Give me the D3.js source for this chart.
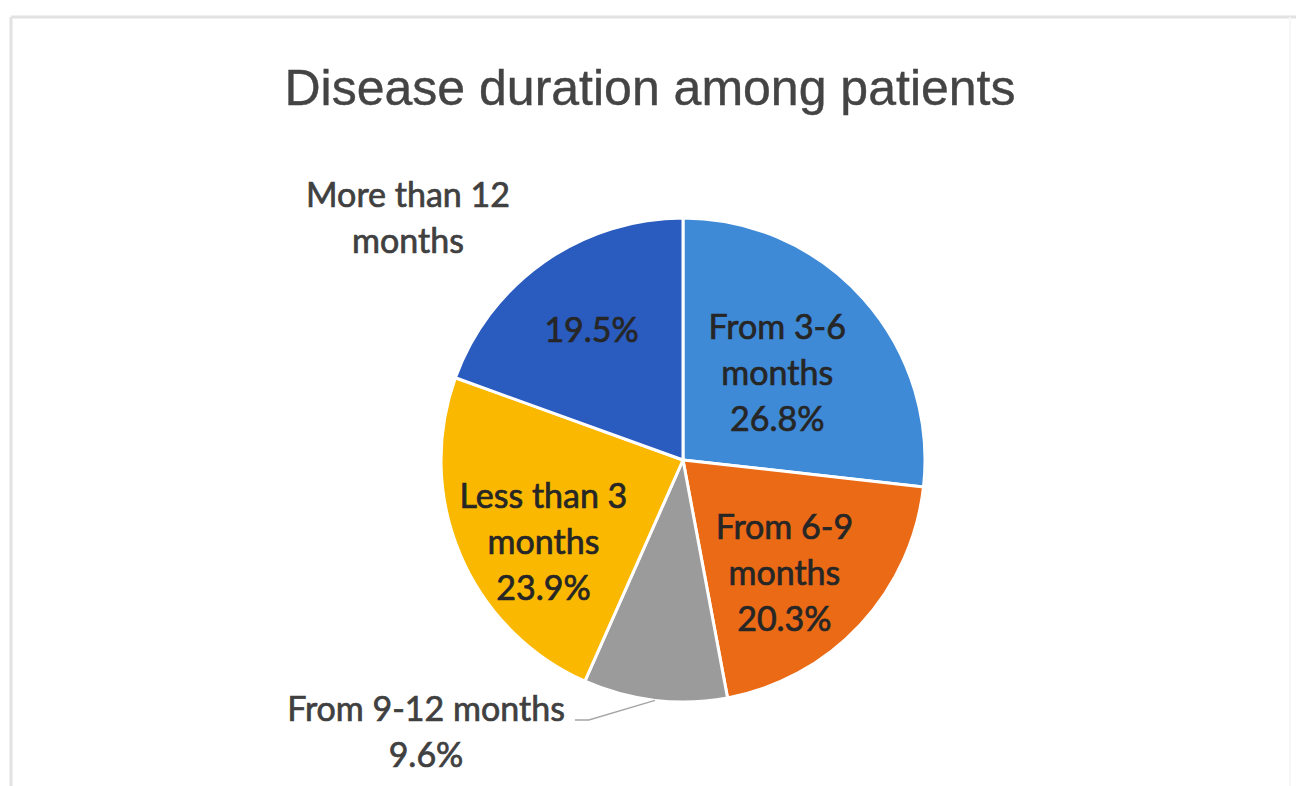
<!DOCTYPE html>
<html>
<head>
<meta charset="utf-8">
<script src="https://cdn.jsdelivr.net/npm/d3@7"></script>
<style>
  body { margin: 0; background: #fff; }
  svg { display: block; }
</style>
</head>
<body>
<svg id="chart"></svg>
<script>
// chart values
const categories = ["From 3-6 months", "From 6-9 months", "From 9-12 months", "Less than 3 months", "More than 12 months"];
const shares = [26.8, 20.3, 9.6, 23.9, 19.5];
const sliceColors = ["#3f8ad6", "#eb6a16", "#9b9b9b", "#fbb800", "#2a5bbe"];
const nameLines = [["From 3-6", "months"], ["From 6-9", "months"], ["From 9-12 months"], ["Less than 3", "months"], ["More than 12", "months"]];
const titleText = "Disease duration among patients";

const width = 1296, height = 786;
const cx = 683, cy = 460, R = 242;
const lineH = 46;
const labelFont = "Lato, 'Open Sans', sans-serif";

const svg = d3.select("#chart")
  .attr("width", width)
  .attr("height", height);

// light frame around the chart area (cropped on the right and bottom)
svg.append("line").attr("x1", 11).attr("y1", 17).attr("x2", width).attr("y2", 17)
  .attr("stroke", "#e2e2e2").attr("stroke-width", 3);
svg.append("line").attr("x1", 11).attr("y1", 17).attr("x2", 11).attr("y2", height)
  .attr("stroke", "#e2e2e2").attr("stroke-width", 3);
svg.append("line").attr("x1", 1290).attr("y1", 17).attr("x2", 1290).attr("y2", height)
  .attr("stroke", "#f7f7f7").attr("stroke-width", 2);

svg.append("text")
  .attr("x", 650)
  .attr("y", 105)
  .attr("text-anchor", "middle")
  .attr("font-family", "'Liberation Sans', Arial, sans-serif")
  .attr("font-size", 50)
  .attr("fill", "#444")
  .attr("stroke", "#444")
  .attr("stroke-width", 0.4)
  .text(titleText);

const pie = d3.pie().sort(null).value(d => d);
const arcs = pie(shares);
const color = d3.scaleOrdinal().domain(categories).range(sliceColors);

const arc = d3.arc().innerRadius(0).outerRadius(R);
const labelArc = d3.arc().innerRadius(R * 0.6).outerRadius(R * 0.6);

const g = svg.append("g").attr("transform", `translate(${cx},${cy})`);

g.selectAll("path.slice")
  .data(arcs)
  .join("path")
  .attr("class", "slice")
  .attr("d", arc)
  .attr("fill", (d, i) => color(categories[i]))
  .attr("stroke", "#fff")
  .attr("stroke-width", 3)
  .attr("stroke-linejoin", "round");

// Excel "best fit" placement: small nudges from the centroid, two labels go outside
const nudge = {
  "From 3-6 months": [-14, 10],
  "From 6-9 months": [-5, 14],
  "Less than 3 months": [-6, 25],
  "More than 12 months": [-8, -11]
};

function block(parent, x, y, lines, fill) {
  const t = parent.append("text")
    .attr("text-anchor", "middle")
    .attr("font-family", labelFont)
    .attr("font-size", 34)
    .attr("fill", fill)
    .attr("stroke", fill)
    .attr("stroke-width", 0.7);
  lines.forEach((s, k) => {
    t.append("tspan")
      .attr("x", x)
      .attr("y", y + (k - (lines.length - 1) / 2) * lineH + 12)
      .text(s);
  });
  return t;
}

arcs.forEach((d, i) => {
  const name = categories[i];
  const pct = d3.format(".1f")(shares[i]) + "%";
  const c = labelArc.centroid(d);
  if (name === "More than 12 months") {
    // percentage inside, name outside top-left
    block(g, c[0] + nudge[name][0], c[1] + nudge[name][1], [pct], "#262626");
    block(g, -275, -242, nameLines[i], "#404040");
  } else if (name === "From 9-12 months") {
    const lx = -257, ly = 272;
    const t = block(g, lx, ly, [nameLines[i][0], pct], "#404040");
    const mid = (d.startAngle + d.endAngle) / 2;
    const p0 = d3.pointRadial(mid, R);
    const right = lx + t.select("tspan").node().getComputedTextLength() / 2;
    const by = ly - lineH / 2 + 12;
    g.append("path")
      .attr("d", d3.line()([p0, [right + 24, by - 1], [right + 10, by - 1]]))
      .attr("fill", "none")
      .attr("stroke", "#a6a6a6")
      .attr("stroke-width", 1.5);
  } else {
    block(g, c[0] + nudge[name][0], c[1] + nudge[name][1], nameLines[i].concat([pct]), "#262626");
  }
});
</script>
</body>
</html>
